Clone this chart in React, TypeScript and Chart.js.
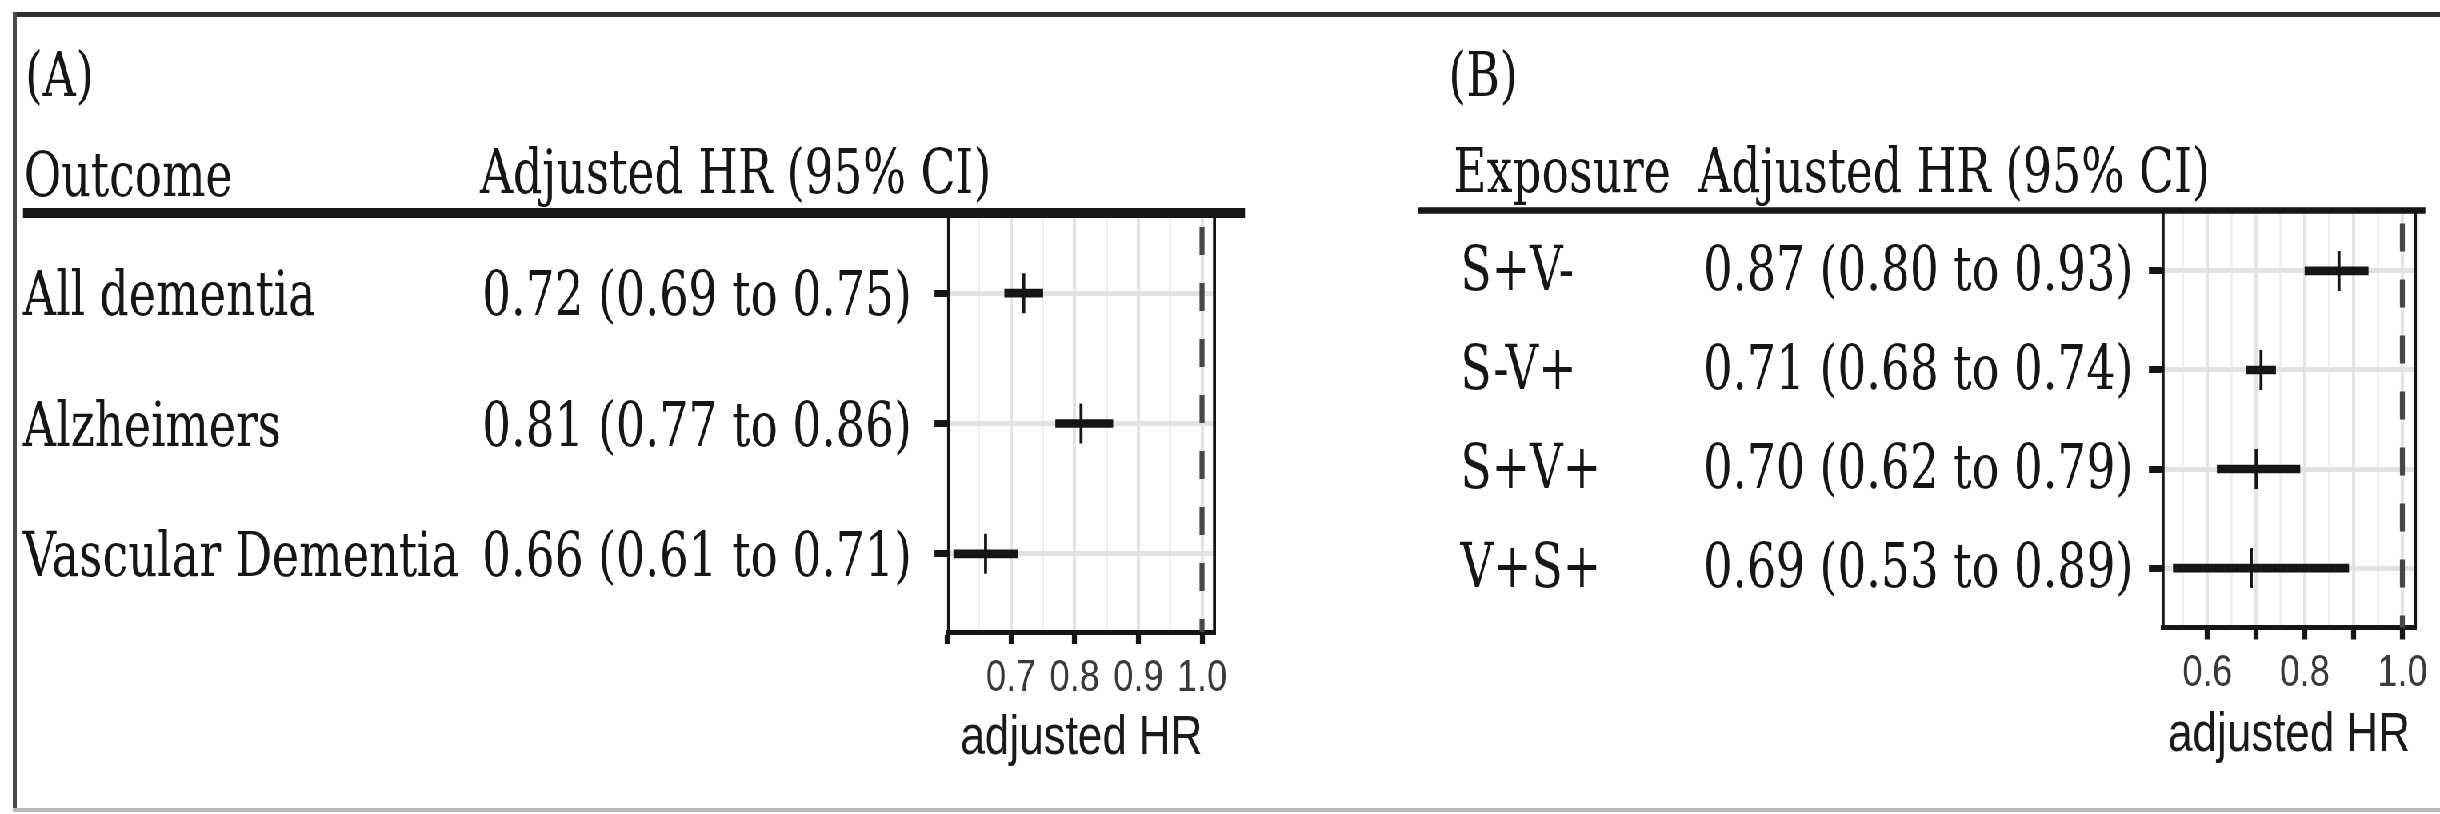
import React, { useEffect, useRef } from 'react';
import { Chart, registerables } from 'chart.js';

Chart.register(...registerables);
Chart.defaults.font.family = '"Liberation Sans", Arial, sans-serif';

const FIG_W = 2440;
const FIG_H = 814;
// the whole figure is drawn wide and compressed horizontally
const SQUEEZE = 0.8;
const SERIF_STRETCH = 0.92;
const SERIF = '"DejaVu Serif", "Liberation Serif", serif';
const SERIF_SIZE = 62;
const INK = '#161616';

// (A) outcomes
const outcomeNames = ['All dementia', 'Alzheimers', 'Vascular Dementia'];
const outcomeHR = [0.72, 0.81, 0.66];
const outcomeLow = [0.69, 0.77, 0.61];
const outcomeHigh = [0.75, 0.86, 0.71];

// (B) exposures
const exposureNames = ['S+V-', 'S-V+', 'S+V+', 'V+S+'];
const exposureHR = [0.87, 0.71, 0.7, 0.69];
const exposureLow = [0.8, 0.68, 0.62, 0.53];
const exposureHigh = [0.93, 0.74, 0.79, 0.89];

// axis breaks
const breaksA = [0.6, 0.7, 0.8, 0.9, 1.0];
const breakLabelsA = ['', '0.7', '0.8', '0.9', '1.0'];
const minorBreaksA = [0.65, 0.75, 0.85, 0.95];
const breaksB = [0.6, 0.7, 0.8, 0.9, 1.0];
const breakLabelsB = ['0.6', '', '0.8', '', '1.0'];
const minorBreaksB = [0.55, 0.65, 0.75, 0.85, 0.95];

const NULL_HR = 1.0;

const formatCI = (hr: number, lo: number, hi: number) =>
  `${hr.toFixed(2)} (${lo.toFixed(2)} to ${hi.toFixed(2)})`;

interface PanelSpec {
  left: number;
  right: number;
  box: { left: number; right: number; top: number; bottom: number };
  xMin: number;
  xMax: number;
  names: string[];
  hr: number[];
  low: number[];
  high: number[];
  breaks: number[];
  breakLabels: string[];
  minorBreaks: number[];
  tag: string;
  tagX: number;
  tagY: number;
  headers: { text: string; x: number; y: number }[];
  rule: { x1: number; x2: number; y: number; w: number };
  nameX: number;
  valueX: number;
  textDrop: number;
  tickPad: number;
  titlePad: number;
}

const panelA: PanelSpec = {
  left: 0,
  right: 1250,
  box: { left: 948.5, right: 1214.5, top: 215, bottom: 632 },
  xMin: 0.6018,
  xMax: 1.0196,
  names: outcomeNames,
  hr: outcomeHR,
  low: outcomeLow,
  high: outcomeHigh,
  breaks: breaksA,
  breakLabels: breakLabelsA,
  minorBreaks: minorBreaksA,
  tag: '(A)',
  tagX: 25,
  tagY: 96,
  headers: [
    { text: 'Outcome', x: 24, y: 196 },
    { text: 'Adjusted HR (95% CI)', x: 480, y: 193 },
  ],
  rule: { x1: 23, x2: 1245, y: 213, w: 10 },
  nameX: 23,
  valueX: 482,
  textDrop: 22,
  tickPad: 12,
  titlePad: 47.5,
};

const panelB: PanelSpec = {
  left: 1250,
  right: 2440,
  box: { left: 2162.5, right: 2415, top: 211.5, bottom: 627.5 },
  xMin: 0.5087,
  xMax: 1.0267,
  names: exposureNames,
  hr: exposureHR,
  low: exposureLow,
  high: exposureHigh,
  breaks: breaksB,
  breakLabels: breakLabelsB,
  minorBreaks: minorBreaksB,
  tag: '(B)',
  tagX: 1448,
  tagY: 96,
  headers: [
    { text: 'Exposure', x: 1453, y: 192 },
    { text: 'Adjusted HR (95% CI)', x: 1698, y: 192 },
  ],
  rule: { x1: 1418, x2: 2425, y: 210.5, w: 6.5 },
  nameX: 1460,
  valueX: 1703,
  textDrop: 19,
  tickPad: 11.5,
  titlePad: 50.5,
};

const near = (v: number, list: number[]) => list.some((b) => Math.abs(b - v) < 1e-6);

function ForestPanel({ spec }: { spec: PanelSpec }) {
  const ref = useRef<HTMLCanvasElement | null>(null);
  const cw = Math.round((spec.right - spec.left) / SQUEEZE);

  useEffect(() => {
    const canvas = ref.current;
    if (!canvas) return;
    const cx = (fx: number) => (fx - spec.left) / SQUEEZE;
    const n = spec.names.length;
    const rows = spec.names.map((_, i) => i + 1);
    const xTicks = [...spec.breaks, ...spec.minorBreaks].sort((a, b) => a - b);

    const tablePlugin = {
      id: 'forestTable',
      beforeDatasetsDraw(chart: any) {
        const { ctx, chartArea } = chart;
        const xs = chart.scales.x;
        ctx.save();
        // right edge of the panel frame
        ctx.strokeStyle = INK;
        ctx.lineWidth = 3 / SQUEEZE;
        ctx.beginPath();
        ctx.moveTo(chartArea.right, chartArea.top);
        ctx.lineTo(chartArea.right, chartArea.bottom);
        ctx.stroke();
        // no-effect reference line
        const px = xs.getPixelForValue(NULL_HR);
        ctx.strokeStyle = '#474747';
        ctx.lineWidth = 5 / SQUEEZE;
        ctx.setLineDash([28, 28]);
        ctx.beginPath();
        ctx.moveTo(px, chartArea.top + 12);
        ctx.lineTo(px, chartArea.bottom);
        ctx.stroke();
        ctx.restore();
      },
      afterDraw(chart: any) {
        const { ctx } = chart;
        const ys = chart.scales.y;
        ctx.save();
        ctx.fillStyle = INK;
        const r = spec.rule;
        ctx.fillRect(cx(r.x1), r.y - r.w / 2, cx(r.x2) - cx(r.x1), r.w);
        ctx.font = `${SERIF_SIZE}px ${SERIF}`;
        ctx.textBaseline = 'alphabetic';
        ctx.textAlign = 'left';
        const text = (s: string, fx: number, y: number) => {
          ctx.save();
          ctx.translate(cx(fx), y);
          ctx.scale(SERIF_STRETCH, 1);
          ctx.fillText(s, 0, 0);
          ctx.restore();
        };
        text(spec.tag, spec.tagX, spec.tagY);
        spec.headers.forEach((h) => text(h.text, h.x, h.y));
        rows.forEach((row, i) => {
          const y = ys.getPixelForValue(row) + spec.textDrop;
          text(spec.names[i], spec.nameX, y);
          text(formatCI(spec.hr[i], spec.low[i], spec.high[i]), spec.valueX, y);
        });
        ctx.restore();
      },
    };

    const chart = new Chart(canvas, {
      type: 'bar',
      data: {
        datasets: [
          {
            type: 'bar',
            indexAxis: 'y',
            data: rows.map((row, i) => ({ y: row, x: [spec.low[i], spec.high[i]] })),
            backgroundColor: INK,
            borderWidth: 0,
            barThickness: 8,
          } as any,
          {
            type: 'scatter',
            data: rows.map((row, i) => ({ x: spec.hr[i], y: row })),
            pointStyle: 'line',
            rotation: 90,
            radius: 20,
            borderWidth: 3 / SQUEEZE,
            borderColor: INK,
            backgroundColor: INK,
          } as any,
        ],
      },
      options: {
        indexAxis: 'y',
        responsive: false,
        animation: false,
        events: [],
        layout: {
          padding: { left: 0, top: spec.box.top, right: cw - cx(spec.box.right), bottom: 0 },
        },
        plugins: { legend: { display: false }, tooltip: { enabled: false } },
        scales: {
          x: {
            type: 'linear',
            position: 'bottom',
            min: spec.xMin,
            max: spec.xMax,
            bounds: 'data',
            beginAtZero: false,
            offset: false,
            afterBuildTicks: (axis: any) => {
              axis.ticks = xTicks.map((v) => ({ value: v }));
            },
            afterFit: (axis: any) => {
              axis.height = FIG_H - spec.box.bottom;
            },
            ticks: {
              autoSkip: false,
              maxRotation: 0,
              minRotation: 0,
              padding: spec.tickPad,
              color: '#3a3a3a',
              font: { size: 45, lineHeight: 1 },
              callback: (value: any) => {
                const k = spec.breaks.findIndex((b) => Math.abs(b - Number(value)) < 1e-6);
                return k >= 0 ? spec.breakLabels[k] : '';
              },
            },
            grid: {
              offset: false,
              drawTicks: true,
              tickLength: 12,
              color: (c: any) => (near(c.tick?.value, spec.breaks) ? '#e4e4e4' : '#efefef'),
              lineWidth: (c: any) => (near(c.tick?.value, spec.breaks) ? 4 : 3),
              tickColor: (c: any) => (near(c.tick?.value, spec.breaks) ? INK : 'rgba(0,0,0,0)'),
              tickWidth: 5 / SQUEEZE,
            },
            border: { display: true, color: INK, width: 5 },
            title: {
              display: true,
              text: 'adjusted HR',
              color: '#1a1a1a',
              font: { size: 55, lineHeight: 1 },
              padding: { top: 0, bottom: spec.titlePad },
            },
          },
          y: {
            type: 'linear',
            position: 'left',
            reverse: true,
            min: 0.4,
            max: n + 0.6,
            bounds: 'data',
            offset: false,
            afterBuildTicks: (axis: any) => {
              axis.ticks = rows.map((v) => ({ value: v }));
            },
            afterFit: (axis: any) => {
              axis.width = cx(spec.box.left);
            },
            ticks: { display: false },
            grid: {
              offset: false,
              drawTicks: true,
              tickLength: 14 / SQUEEZE,
              color: '#e2e2e2',
              lineWidth: 5,
              tickColor: INK,
              tickWidth: 7,
            },
            border: { display: true, color: INK, width: 3 / SQUEEZE },
          },
        },
      } as any,
      plugins: [tablePlugin],
    });
    return () => chart.destroy();
  }, [spec]);

  return (
    <canvas
      ref={ref}
      width={cw}
      height={FIG_H}
      style={{ position: 'absolute', left: spec.left / SQUEEZE, top: 0 }}
    />
  );
}

export default function App() {
  return (
    <div
      style={{
        position: 'fixed',
        left: 0,
        top: 0,
        width: FIG_W,
        height: FIG_H,
        overflow: 'hidden',
        background: '#ffffff',
      }}
    >
      <div
        style={{
          position: 'absolute',
          left: 0,
          top: 0,
          width: FIG_W / SQUEEZE,
          height: FIG_H,
          transform: `scaleX(${SQUEEZE})`,
          transformOrigin: '0 0',
        }}
      >
        <ForestPanel spec={panelA} />
        <ForestPanel spec={panelB} />
      </div>
      {/* figure frame */}
      <div style={{ position: 'absolute', left: 13, top: 12, width: FIG_W - 13, height: 5, background: '#2f2f2f' }} />
      <div style={{ position: 'absolute', left: 13, top: 12, width: 4, height: 800, background: '#4a4a4a' }} />
      <div style={{ position: 'absolute', left: 13, top: 808, width: FIG_W - 13, height: 4, background: '#b8b8b8' }} />
    </div>
  );
}
